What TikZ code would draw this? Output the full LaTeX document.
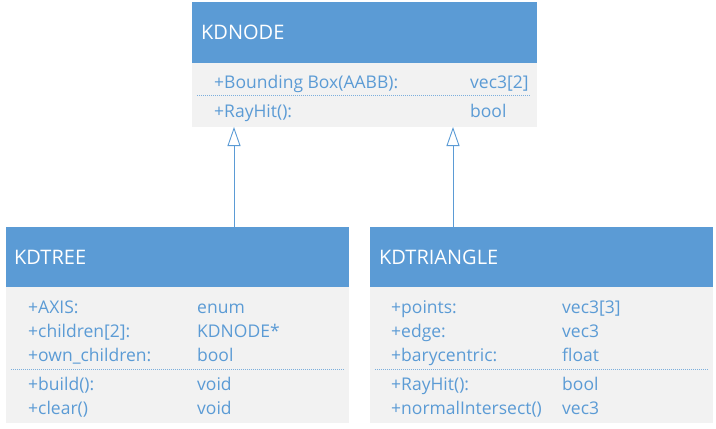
\documentclass[tikz,border=0pt]{standalone}
\usepackage{fontspec}
\setmainfont{Open Sans}
\usetikzlibrary{arrows.meta}
\definecolor{hdr}{HTML}{5B9BD5}
\definecolor{bodyc}{HTML}{F2F2F2}
\definecolor{txt}{HTML}{5B9BD5}
\tikzset{
  hdrbox/.style={fill=hdr, draw=none},
  bodybox/.style={fill=bodyc, draw=none},
  title/.style={anchor=base west, text=white, font=\fontsize{20}{24}\selectfont, inner sep=0pt},
  attr/.style={anchor=base west, text=txt, font=\fontsize{17.5}{21}\selectfont, inner sep=0pt},
  sep/.style={draw=txt!80, dash pattern=on 1pt off 1pt, line width=0.9pt},
  inh/.style={draw=txt, line width=0.9pt, -{Triangle[open, width=13pt, length=19pt, fill=white]}},
}
\begin{document}
\begin{tikzpicture}[x=1pt, y=-1pt]
\useasboundingbox (0,0) rectangle (716,429);
% KDNODE
\fill[bodybox] (192,63) rectangle (537,127);
\fill[hdrbox] (192,2) rectangle (537,63);
\node[title] (ntitle) at (201,39.5) {KDNODE};
\node[attr] (n1) at (214,88) {+Bounding Box(AABB):};
\node[attr] (n1t) at (470,88) {vec3[2]};
\draw[sep] (197,95.5) -- (530,95.5);
\node[attr] (n2) at (214,117.5) {+RayHit():};
\node[attr] (n2t) at (470,117.5) {bool};
\coordinate (nodeL) at (234,127);
\coordinate (nodeR) at (453,127);
% KDTREE
\fill[bodybox] (6,287) rectangle (349,423);
\fill[hdrbox] (6,227) rectangle (349,287);
\node[title] (ttitle) at (14,264.5) {KDTREE};
\node[attr] at (28,313.5) {+AXIS:};
\node[attr] at (197,313.5) {enum};
\node[attr] at (28,337.5) {+children[2]:};
\node[attr] at (197,337.5) {KDNODE*};
\node[attr] at (28,361.5) {+own\_children:};
\node[attr] at (197,361.5) {bool};
\draw[sep] (11,369.5) -- (344,369.5);
\node[attr] at (28,390.5) {+build():};
\node[attr] at (197,390.5) {void};
\node[attr] at (28,414.5) {+clear()};
\node[attr] at (197,414.5) {void};
\coordinate (treeT) at (234,227);
% KDTRIANGLE
\fill[bodybox] (370,287) rectangle (713,423);
\fill[hdrbox] (370,227) rectangle (713,287);
\node[title] (rtitle) at (379,264.5) {KDTRIANGLE};
\node[attr] at (391,313.5) {+points:};
\node[attr] at (562,313.5) {vec3[3]};
\node[attr] at (391,337.5) {+edge:};
\node[attr] at (562,337.5) {vec3};
\node[attr] at (391,361.5) {+barycentric:};
\node[attr] at (562,361.5) {float};
\draw[sep] (375,369.5) -- (708,369.5);
\node[attr] at (391,390.5) {+RayHit():};
\node[attr] at (562,390.5) {bool};
\node[attr] at (391,414.5) {+normalIntersect()};
\node[attr] at (562,414.5) {vec3};
\coordinate (triT) at (453,227);
% inheritance
\draw[inh] (treeT) -- (nodeL);
\draw[inh] (triT) -- (nodeR);
\end{tikzpicture}
\end{document}
